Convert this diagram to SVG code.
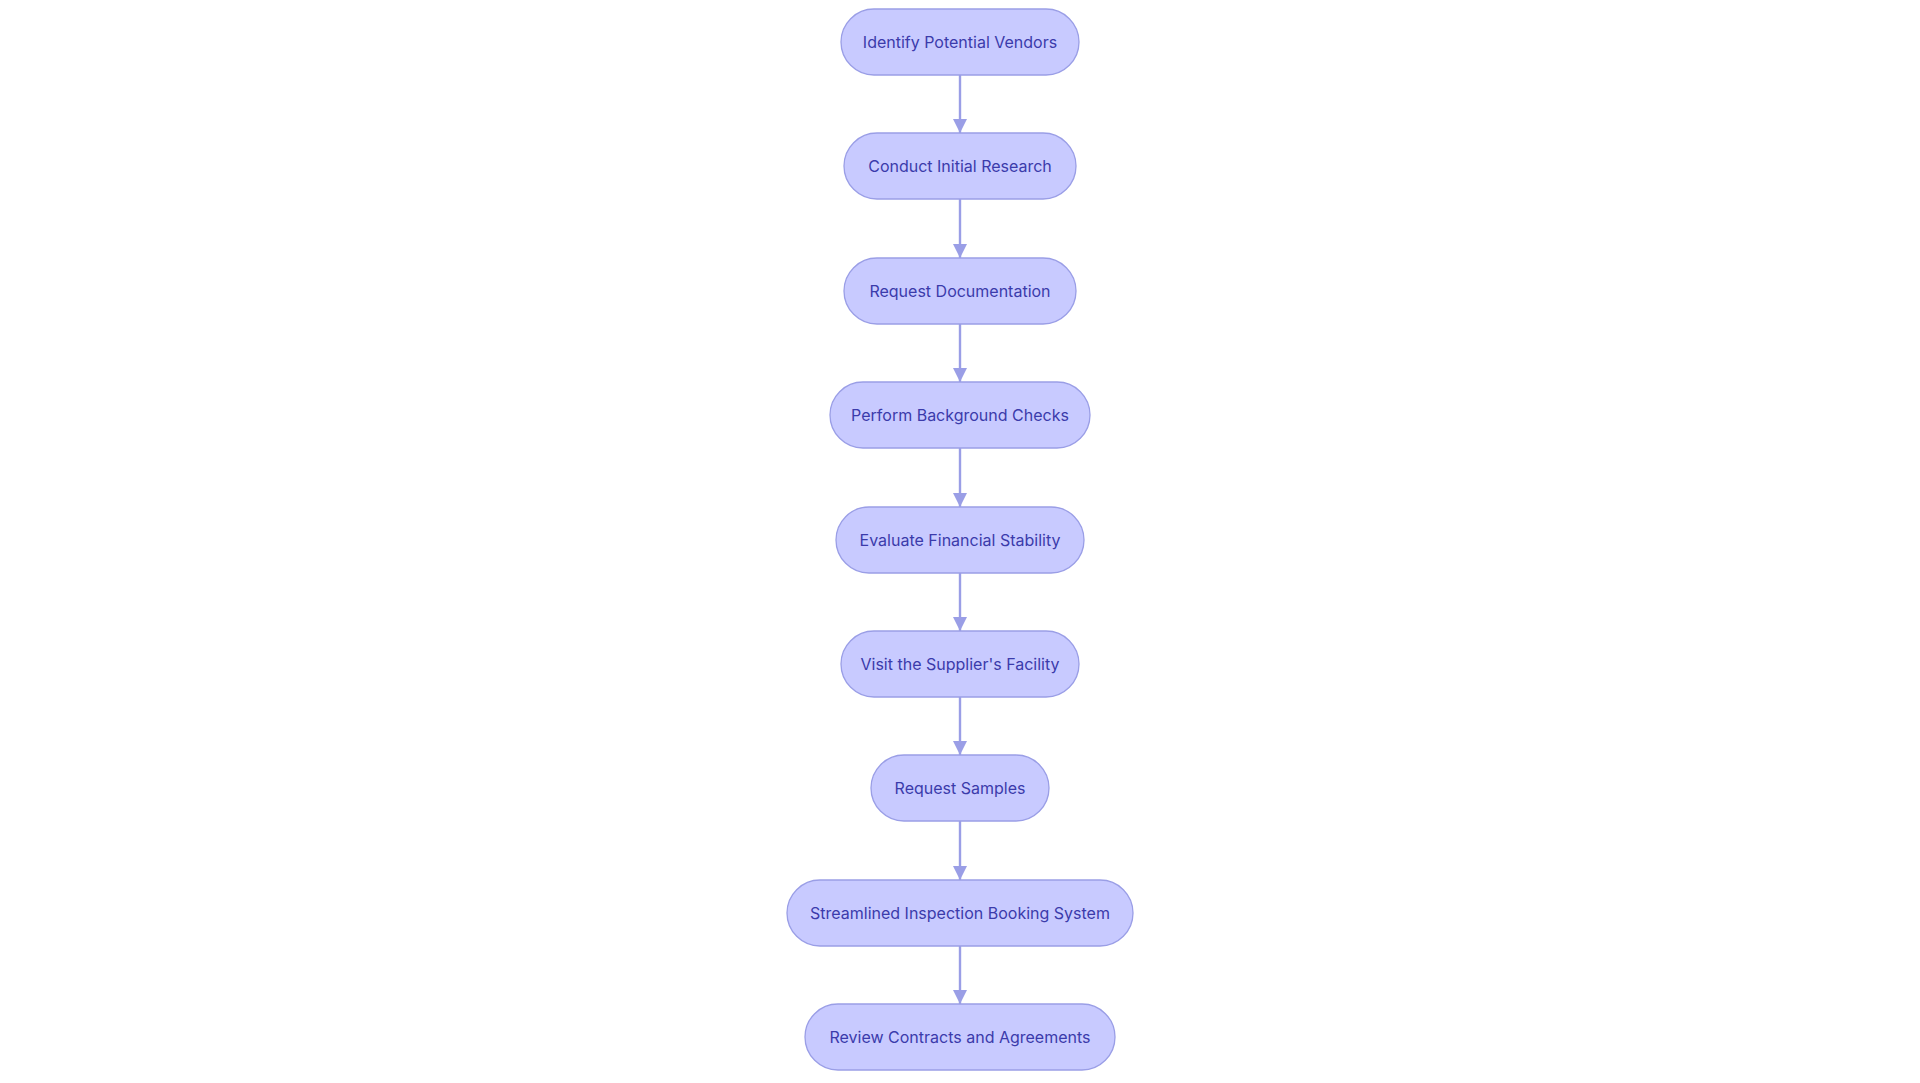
<svg xmlns="http://www.w3.org/2000/svg" width="1920" height="1083" viewBox="0 0 1920 1083">
<defs>
<style>
.n rect{fill:#c8caff;stroke:#9a9ee6;stroke-width:1.3}
.n text{font-family:Inter,"Noto Sans",sans-serif;font-size:16px;fill:#3b3bab;text-anchor:middle;dominant-baseline:central}
.e line{stroke:#9a9ee6;stroke-width:2.4}
</style>
<marker id="a" viewBox="0 0 10 10" refX="10" refY="5" markerWidth="14" markerHeight="14" orient="auto" markerUnits="userSpaceOnUse"><path d="M0,0L10,5L0,10z" fill="#9a9ee6"/></marker>
</defs>
<rect width="1920" height="1083" fill="#fff"/>
<g id="edges" class="e">
<line x1="960" y1="75" x2="960" y2="133" marker-end="url(#a)"/>
<line x1="960" y1="199" x2="960" y2="258" marker-end="url(#a)"/>
<line x1="960" y1="324" x2="960" y2="382" marker-end="url(#a)"/>
<line x1="960" y1="448" x2="960" y2="507" marker-end="url(#a)"/>
<line x1="960" y1="573" x2="960" y2="631" marker-end="url(#a)"/>
<line x1="960" y1="697" x2="960" y2="755" marker-end="url(#a)"/>
<line x1="960" y1="821" x2="960" y2="880" marker-end="url(#a)"/>
<line x1="960" y1="946" x2="960" y2="1004" marker-end="url(#a)"/>
</g>
<g id="n1" class="n"><rect x="841" y="9" width="238" height="66" rx="33"/><text x="960" y="42">Identify Potential Vendors</text></g>
<g id="n2" class="n"><rect x="844" y="133" width="232" height="66" rx="33"/><text x="960" y="166">Conduct Initial Research</text></g>
<g id="n3" class="n"><rect x="844" y="258" width="232" height="66" rx="33"/><text x="960" y="291">Request Documentation</text></g>
<g id="n4" class="n"><rect x="830" y="382" width="260" height="66" rx="33"/><text x="960" y="415">Perform Background Checks</text></g>
<g id="n5" class="n"><rect x="836" y="507" width="248" height="66" rx="33"/><text x="960" y="540">Evaluate Financial Stability</text></g>
<g id="n6" class="n"><rect x="841" y="631" width="238" height="66" rx="33"/><text x="960" y="664">Visit the Supplier's Facility</text></g>
<g id="n7" class="n"><rect x="871" y="755" width="178" height="66" rx="33"/><text x="960" y="788">Request Samples</text></g>
<g id="n8" class="n"><rect x="787" y="880" width="346" height="66" rx="33"/><text x="960" y="913">Streamlined Inspection Booking System</text></g>
<g id="n9" class="n"><rect x="805" y="1004" width="310" height="66" rx="33"/><text x="960" y="1037">Review Contracts and Agreements</text></g>
</svg>
